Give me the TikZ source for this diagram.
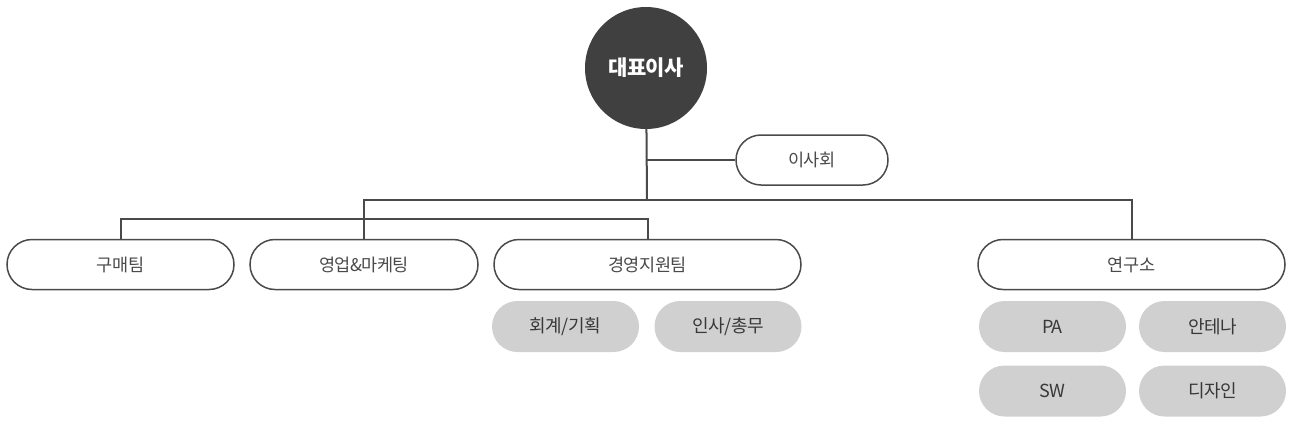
\documentclass[tikz,border=0pt]{standalone}
\usepackage{fontspec}
\setmainfont{Noto Sans CJK KR}
\newfontfamily\orgfont[LetterSpace=-3]{Noto Sans CJK KR}
\definecolor{linegray}{HTML}{4A4A4A}
\definecolor{ceogray}{HTML}{404040}
\definecolor{pillgray}{HTML}{D0D0D0}
\definecolor{textgray}{HTML}{4A4A4A}
\definecolor{darkgray}{HTML}{383838}

\begin{document}
\begin{tikzpicture}[x=1pt,y=-1pt,
	unit/.style={draw=linegray,line width=1.5pt,rounded corners=25pt,minimum height=50pt,fill=white,text=textgray,font=\orgfont\fontsize{17.5}{20}\selectfont},
	team/.style={fill=pillgray,rounded corners=25.5pt,minimum width=147pt,minimum height=51pt,text=darkgray,font=\orgfont\fontsize{18}{20}\selectfont},
	link/.style={draw=linegray,line width=2pt}]
	\useasboundingbox (0,0) rectangle (1293,429);

	\node[circle,fill=ceogray,minimum size=122pt,text=white,font=\orgfont\fontsize{21}{24}\selectfont\bfseries] (ceo) at (646,68) {대표이사};
	\node[unit,minimum width=152pt] (board) at (812,160) {이사회};

	\node[unit,minimum width=227pt] (buy) at (120.5,264.5) {구매팀};
	\node[unit,minimum width=228pt] (sales) at (364,264.5) {영업\&마케팅};
	\node[unit,minimum width=307pt] (mgmt) at (647.5,264.5) {경영지원팀};
	\node[unit,minimum width=307pt] (lab) at (1131.5,264.5) {연구소};

	\node[team] (acc) at (565.5,326.5) {회계/기획};
	\node[team] (hr) at (728,326.5) {인사/총무};
	\node[team] (pa) at (1052.5,326.5) {PA};
	\node[team] (ant) at (1212.5,326.5) {안테나};
	\node[team] (sw) at (1052.5,391) {SW};
	\node[team] (des) at (1212.5,391) {디자인};

	\coordinate (hub) at (647,200);
	\coordinate (sub) at (364,219);

	\draw[link] (ceo) -- (hub);
	\draw[link] (ceo |- board) -- (board);
	\draw[link] (sales.north) |- (hub) -| (lab.north);
	\draw[link] (buy.north) |- (sub) -| (mgmt.north);
\end{tikzpicture}
\end{document}
